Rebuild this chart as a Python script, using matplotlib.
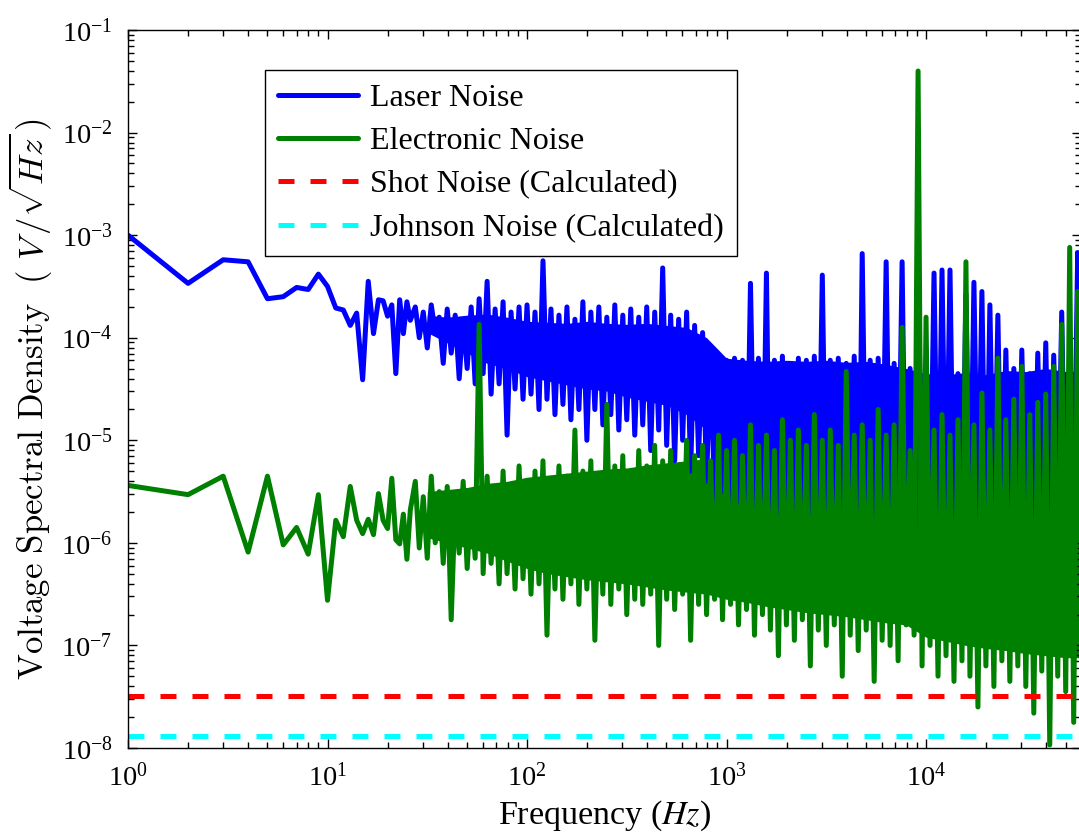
import numpy as np
import matplotlib
matplotlib.use("Agg")
import matplotlib.pyplot as plt
from matplotlib.ticker import LogLocator, NullFormatter

plt.rcParams['font.family'] = ['Liberation Serif', 'DejaVu Serif']
plt.rcParams['mathtext.fontset'] = 'stix'

# first bins, 1 Hz resolution (read point by point)
freq_low = list(range(1, 27))
laser_low_exp = [-3.00, -3.47, -3.24, -3.26, -3.62, -3.60, -3.51, -3.53, -3.38, -3.50,
                 -3.71, -3.73, -3.88, -3.76, -4.41, -3.45, -3.96, -3.63, -3.64, -3.79,
                 -3.68, -4.35, -3.63, -3.96, -3.65, -3.83]
elec_low_exp = [-5.44, -5.53, -5.35, -6.09, -5.35, -6.02, -5.85, -6.11, -5.53, -6.56,
                -5.78, -5.94, -5.45, -5.78, -5.91, -5.77, -5.92, -5.52, -5.78, -5.86,
                -5.37, -5.97, -6.01, -5.72, -6.16, -5.68]

# dense part: upper / lower excursions read every 0.04 decade (log10 f from 1.44)
laser_hi_exp = [-3.70, -3.75, -3.68, -3.80, -3.72, -3.78, -3.82, -3.70, -3.62, -3.45,
                -3.72, -3.65, -3.75, -3.70, -3.68, -3.75, -3.25, -3.72, -3.78, -3.70,
                -3.82, -3.65, -3.75, -3.70, -3.80, -3.68, -3.78, -3.72, -3.80, -3.70,
                -3.75, -3.32, -3.78, -3.82, -3.75, -3.88, -3.95, -4.10, -4.18, -4.22,
                -4.20, -4.22, -3.47, -4.20, -3.37, -4.22, -4.18, -4.25, -4.20, -4.22,
                -4.18, -3.39, -4.22, -4.20, -4.25, -4.18, -3.18, -4.22, -4.20, -3.26,
                -4.25, -3.26, -4.30, -3.24, -4.35, -3.37, -3.34, -3.34, -4.35, -3.58,
                -3.46, -3.55, -3.68, -3.78, -4.12, -4.30, -4.12, -4.35, -4.15, -4.05,
                -4.17, -3.75, -4.27, -3.17]
laser_lo_exp = [-4.00, -4.10, -3.95, -4.25, -4.15, -4.40, -4.30, -4.45, -4.35, -4.55,
                -4.45, -4.95, -4.50, -4.60, -4.55, -4.70, -4.60, -4.75, -4.65, -4.80,
                -4.70, -5.00, -4.70, -4.85, -4.75, -4.90, -4.80, -4.95, -4.85, -5.10,
                -4.90, -5.05, -5.20, -5.00, -5.30, -5.15, -5.40, -5.60, -5.50, -5.70,
                -5.60, -5.80, -5.65, -5.90, -6.40, -6.65, -5.90, -6.60, -5.95, -6.10,
                -5.85, -6.00, -5.90, -6.10, -6.00, -6.60, -5.95, -6.10, -5.85, -6.00,
                -5.90, -6.30, -6.25, -5.80, -5.90, -6.00, -5.85, -6.05, -5.90, -6.00,
                -5.85, -6.05, -5.90, -6.00, -5.85, -6.05, -5.90, -6.00, -5.85, -6.05,
                -5.90, -6.00, -5.85, -6.00]
elec_hi_exp = [-5.40, -5.55, -5.35, -5.50, -5.45, -5.60, -5.40, -5.55, -3.87, -5.35,
               -5.45, -5.30, -5.45, -5.25, -5.40, -5.30, -5.20, -5.40, -5.25, -5.35,
               -4.90, -5.30, -5.20, -5.35, -4.65, -5.25, -5.15, -5.30, -5.10, -5.25,
               -5.05, -5.20, -5.10, -5.25, -5.00, -5.15, -5.05, -5.20, -4.95, -5.10,
               -5.00, -5.15, -4.85, -5.05, -4.95, -5.10, -4.80, -5.00, -4.90, -5.05,
               -4.75, -5.00, -4.90, -5.05, -4.33, -4.95, -4.85, -5.00, -4.70, -4.95,
               -4.85, -3.90, -5.10, -1.40, -3.80, -4.90, -4.75, -4.95, -4.80, -3.26,
               -4.85, -4.54, -4.90, -4.20, -4.80, -4.60, -4.28, -4.75, -4.63, -4.55,
               -4.28, -3.87, -3.12, -3.55]
elec_lo_exp = [-6.05, -6.15, -6.00, -6.20, -6.75, -6.10, -6.25, -6.15, -6.30, -6.20,
               -6.40, -6.30, -6.45, -6.35, -6.50, -6.40, -6.90, -6.45, -6.55, -6.40,
               -6.60, -6.45, -6.95, -6.50, -6.60, -6.45, -6.70, -6.55, -6.60, -6.50,
               -7.00, -6.55, -6.65, -6.50, -6.95, -6.60, -6.70, -6.55, -6.75, -6.60,
               -6.80, -6.65, -6.90, -6.70, -6.85, -7.10, -6.80, -6.95, -6.75, -7.20,
               -6.85, -7.00, -6.80, -7.30, -6.90, -7.05, -6.85, -7.35, -6.95, -7.00,
               -7.15, -6.80, -6.90, -7.20, -7.00, -7.30, -7.10, -7.35, -7.15, -7.30,
               -7.60, -7.20, -7.40, -7.15, -7.35, -7.20, -7.40, -7.66, -7.25, -7.97,
               -7.30, -7.45, -7.75, -7.35]

# solid part of each noise band, read every 0.1 decade (log10 f from 1.5)
laser_band_top = [-3.78, -3.80, -3.78, -3.77, -3.80, -3.84, -3.85, -3.86, -3.84, -3.86,
                  -3.87, -3.86, -3.88, -3.90, -4.00, -4.20, -4.22, -4.23, -4.22, -4.23,
                  -4.22, -4.24, -4.23, -4.26, -4.30, -4.35, -4.36, -4.34, -4.36, -4.32,
                  -4.33, -4.30, -4.33, -4.32]
laser_band_bottom = [-3.95, -4.05, -4.15, -4.25, -4.30, -4.38, -4.42, -4.46, -4.50, -4.52,
                     -4.58, -4.62, -4.66, -4.75, -4.90, -5.10, -5.30, -5.40, -5.45, -5.50,
                     -5.50, -5.50, -5.50, -5.50, -5.50, -5.50, -5.50, -5.50, -5.50, -5.50,
                     -5.50, -5.50, -5.50, -5.50]
elec_band_top = [-5.50, -5.48, -5.46, -5.42, -5.40, -5.36, -5.34, -5.32, -5.30, -5.28,
                 -5.27, -5.24, -5.22, -5.20, -5.18, -5.15, -5.14, -5.12, -5.10, -5.09,
                 -5.07, -5.05, -5.05, -5.05, -5.10, -5.05, -5.00, -4.98, -4.96, -4.93,
                 -4.90, -4.88, -4.85, -4.85]
elec_band_bottom = [-5.95, -6.00, -6.05, -6.10, -6.18, -6.25, -6.30, -6.33, -6.36, -6.38,
                    -6.40, -6.43, -6.46, -6.48, -6.50, -6.55, -6.58, -6.62, -6.65, -6.68,
                    -6.70, -6.72, -6.75, -6.78, -6.80, -6.92, -6.96, -7.00, -7.03, -7.05,
                    -7.08, -7.10, -7.12, -7.12]

shot_noise = 3.2e-8
johnson_noise = 1.3e-8


def series(low_exp, hi_exp, lo_exp):
    # zig-zag between the read upper and lower excursions
    log_hi = 1.44 + 0.04 * np.arange(len(hi_exp))
    log_lo = log_hi + 0.02
    f_dense = np.empty(2 * len(hi_exp))
    v_dense = np.empty(2 * len(hi_exp))
    f_dense[0::2] = 10 ** log_hi
    f_dense[1::2] = 10 ** log_lo
    v_dense[0::2] = hi_exp
    v_dense[1::2] = lo_exp
    f = np.concatenate([freq_low, f_dense])
    v = 10 ** np.concatenate([low_exp, v_dense])
    return f, v


f_laser, laser = series(laser_low_exp, laser_hi_exp, laser_lo_exp)
f_elec, elec = series(elec_low_exp, elec_hi_exp, elec_lo_exp)
band_f = 10 ** (1.5 + 0.1 * np.arange(len(laser_band_top)))

blue = (0, 0, 1)
green = (0, 0.5, 0)

fig = plt.figure(figsize=(10.79, 8.40), dpi=100)
ax = fig.add_axes([128 / 1079, 92 / 840, (1081.3 - 128) / 1079, 718 / 840])

lw = 3.6
ax.fill_between(band_f, 10 ** np.array(laser_band_top), 10 ** np.array(laser_band_bottom),
                color=blue, lw=0)
ax.plot(f_laser, laser, color=blue, lw=lw, solid_joinstyle='round',
        solid_capstyle='round', label='Laser Noise')
ax.fill_between(band_f, 10 ** np.array(elec_band_top), 10 ** np.array(elec_band_bottom),
                color=green, lw=0)
ax.plot(f_elec, elec, color=green, lw=lw, solid_joinstyle='round',
        solid_capstyle='round', label='Electronic Noise')
ax.plot([1, 6e4], [shot_noise, shot_noise], color=(1, 0, 0), lw=lw,
        dashes=(3.2, 3.2), label='Shot Noise (Calculated)')
ax.plot([1, 6e4], [johnson_noise, johnson_noise], color=(0, 1, 1), lw=lw,
        dashes=(3.2, 3.2), label='Johnson Noise (Calculated)')

ax.set_xscale('log')
ax.set_yscale('log')
ax.set_xlim(1, 6e4)
ax.set_ylim(1e-8, 1e-1)

for axis in (ax.xaxis, ax.yaxis):
    axis.set_major_locator(LogLocator(base=10, numticks=20))
    axis.set_minor_locator(LogLocator(base=10, subs=np.arange(2, 10), numticks=100))
    axis.set_minor_formatter(NullFormatter())

ax.tick_params(which='both', direction='in', top=True, right=True, width=1.0)
ax.tick_params(which='major', length=6.5, labelsize=20.5)
ax.tick_params(which='minor', length=4)
ax.tick_params(axis='x', which='major', pad=11)
ax.tick_params(axis='y', which='major', pad=11)
for s in ax.spines.values():
    s.set_linewidth(1.0)

ax.set_xlabel(r'Frequency ($\mathit{Hz}$)', fontsize=24.5)
ax.xaxis.set_label_coords(0.5, -0.070)
ax.set_ylabel(r'$\mathrm{Voltage\ Spectral\ Density}\ \ (\ V\,/\sqrt{Hz}\,)$',
              fontsize=25, math_fontfamily='cm')
ax.yaxis.set_label_coords(-0.077, 0.486)

leg = ax.legend(loc='upper left', bbox_to_anchor=(0.1437, 0.9443), borderaxespad=0,
                fontsize=23, handlelength=2.5, handletextpad=0.375, borderpad=0.42,
                labelspacing=0.44, fancybox=False, frameon=True)
leg.get_frame().set_edgecolor('black')
leg.get_frame().set_linewidth(1.0)
leg.get_frame().set_alpha(1)

fig.savefig('out.png', dpi=100)
